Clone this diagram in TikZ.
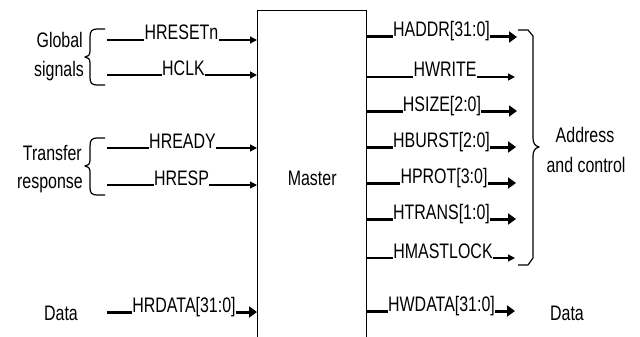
\documentclass[tikz,border=0pt]{standalone}
\usepackage{fontspec}
\setmainfont{Liberation Sans}[FakeStretch=0.76]
\usetikzlibrary{arrows.meta}
\begin{document}
\begin{tikzpicture}[x=1pt,y=-1pt,
  every node/.style={font=\fontsize{21}{25}\selectfont},
  lbl/.style={inner sep=0pt, anchor=base},
  txtr/.style={inner sep=0pt, anchor=base east},
  txtc/.style={inner sep=0pt, anchor=base},
  sigline/.style={line width=1.3pt},
  busline/.style={line width=3pt},
  sig/.style={line width=1.3pt, -{Triangle[length=7pt,width=7pt]}},
  bus/.style={line width=3pt, -{Triangle[length=8pt,width=11pt]}},
  bracepath/.style={line width=1.2pt, line join=round}
]
\useasboundingbox (0,0) rectangle (640,337);

% master block (bottom edge lies outside the picture)
\node[draw, line width=1.4pt, minimum width=109pt, minimum height=335pt,
      anchor=north west, inner sep=0pt] (master) at (257,10) {Master};

% ---------- left side ----------
\node[txtr] (gA) at (83,48) {Global};
\node[txtr] (gB) at (84,77) {signals};
\node[txtr] (tA) at (82,160) {Transfer};
\node[txtr] (tB) at (83,188) {response};
\node[txtc] (dL) at (61,320) {Data};

\node[lbl] (lHRESETn) at (181.5,40) {HRESETn};
\node[lbl] (lHCLK) at (183.5,75) {HCLK};
\node[lbl] (lHREADY) at (182.5,148) {HREADY};
\node[lbl] (lHRESP) at (181.5,185) {HRESP};
\node[lbl] (lHRDATA) at (184,312) {HRDATA[31:0]};

\coordinate (sHRESETn) at (107,40);
\coordinate (sHCLK) at (107,75);
\coordinate (sHREADY) at (107,148);
\coordinate (sHRESP) at (107,185);
\coordinate (sHRDATA) at (107,312);

\draw[sigline] (sHRESETn) -- (lHRESETn.base west);
\draw[sig] (lHRESETn.base east) -- (master.west |- lHRESETn.base);
\draw[sigline] (sHCLK) -- (lHCLK.base west);
\draw[sig] (lHCLK.base east) -- (master.west |- lHCLK.base);
\draw[sigline] (sHREADY) -- (lHREADY.base west);
\draw[sig] (lHREADY.base east) -- (master.west |- lHREADY.base);
\draw[sigline] (sHRESP) -- (lHRESP.base west);
\draw[sig] (lHRESP.base east) -- (master.west |- lHRESP.base);
\draw[busline] (sHRDATA) -- (lHRDATA.base west);
\draw[bus] (lHRDATA.base east) -- (master.west |- lHRDATA.base);

% left braces
\draw[bracepath] (105,29) -- (97,29) .. controls (92,29) and (90,31) .. (90,37)
  -- (90,51) .. controls (90,55) and (88,57) .. (85,57)
  .. controls (88,57) and (90,59) .. (90,63)
  -- (90,78) .. controls (90,83) and (92,85) .. (97,85) -- (105,85);
\draw[bracepath] (105,138) -- (97,138) .. controls (92,138) and (90,140) .. (90,146)
  -- (90,160) .. controls (90,164) and (88,166) .. (85,166)
  .. controls (88,166) and (90,168) .. (90,172)
  -- (90,188) .. controls (90,193) and (92,195) .. (97,195) -- (105,195);

% ---------- right side ----------
\node[lbl] (lHADDR) at (441.5,37) {HADDR[31:0]};
\node[lbl] (lHWRITE) at (445,77) {HWRITE};
\node[lbl] (lHSIZE) at (442,111) {HSIZE[2:0]};
\node[lbl] (lHBURST) at (441.5,147) {HBURST[2:0]};
\node[lbl] (lHPROT) at (444,183) {HPROT[3:0]};
\node[lbl] (lHTRANS) at (441.5,219) {HTRANS[1:0]};
\node[lbl] (lHMASTLOCK) at (443,258) {HMASTLOCK};
\node[lbl] (lHWDATA) at (441.5,311) {HWDATA[31:0]};

\coordinate (eHADDR) at (517,37);
\coordinate (eHWRITE) at (515,77);
\coordinate (eHSIZE) at (517,111);
\coordinate (eHBURST) at (516,147);
\coordinate (eHPROT) at (516,183);
\coordinate (eHTRANS) at (516,219);
\coordinate (eHMASTLOCK) at (515,258);
\coordinate (eHWDATA) at (515,311);

\draw[busline] (master.east |- lHADDR.base) -- (lHADDR.base west);
\draw[bus] (lHADDR.base east) -- (eHADDR);
\draw[sigline] (master.east |- lHWRITE.base) -- (lHWRITE.base west);
\draw[sig] (lHWRITE.base east) -- (eHWRITE);
\draw[busline] (master.east |- lHSIZE.base) -- (lHSIZE.base west);
\draw[bus] (lHSIZE.base east) -- (eHSIZE);
\draw[busline] (master.east |- lHBURST.base) -- (lHBURST.base west);
\draw[bus] (lHBURST.base east) -- (eHBURST);
\draw[busline] (master.east |- lHPROT.base) -- (lHPROT.base west);
\draw[bus] (lHPROT.base east) -- (eHPROT);
\draw[busline] (master.east |- lHTRANS.base) -- (lHTRANS.base west);
\draw[bus] (lHTRANS.base east) -- (eHTRANS);
\draw[sigline] (master.east |- lHMASTLOCK.base) -- (lHMASTLOCK.base west);
\draw[sig] (lHMASTLOCK.base east) -- (eHMASTLOCK);
\draw[busline] (master.east |- lHWDATA.base) -- (lHWDATA.base west);
\draw[bus] (lHWDATA.base east) -- (eHWDATA);

% right brace
\draw[bracepath] (518,30) -- (528,30) -- (533,36)
  -- (533,138) .. controls (533,143) and (535,146) .. (539,147)
  .. controls (535,148) and (533,151) .. (533,156)
  -- (533,258) -- (528,265) -- (518,265);

\node[txtc] (aA) at (585,142) {Address};
\node[txtc] (aB) at (586,172) {and control};
\node[txtc] (dR) at (567,320) {Data};
\end{tikzpicture}
\end{document}
